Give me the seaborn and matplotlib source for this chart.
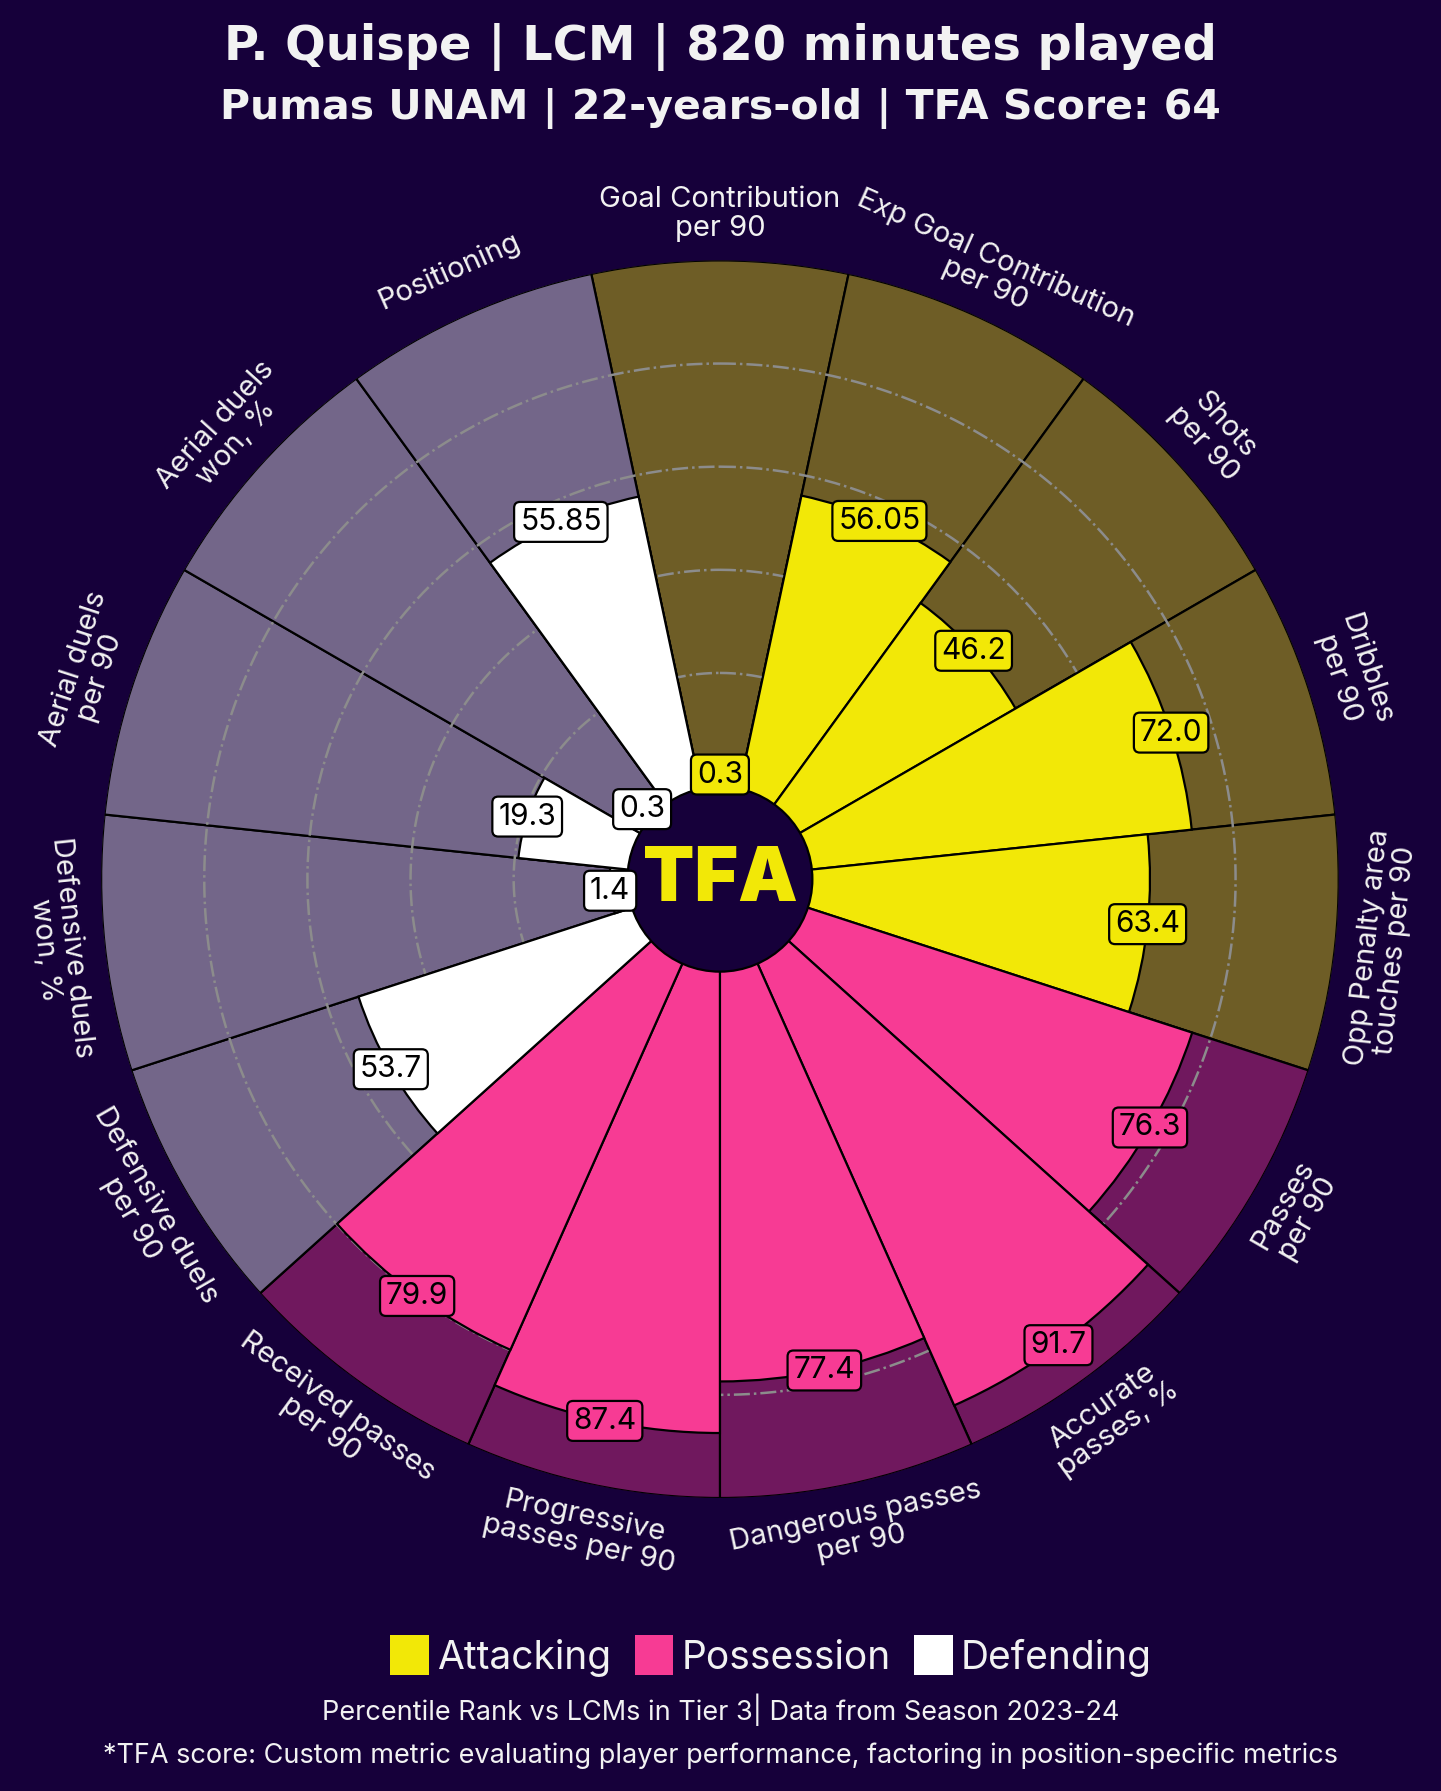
import numpy as np
import matplotlib
matplotlib.use("Agg")
import matplotlib.pyplot as plt
import matplotlib.colors as mcolors
from matplotlib.patches import Circle, Patch
import seaborn as sns

# ---- data ----
params = [
    "Goal Contribution\nper 90", "Exp Goal Contribution\nper 90", "Shots\nper 90",
    "Dribbles\nper 90", "Opp Penalty area\ntouches per 90",
    "Passes\nper 90", "Accurate\npasses, %", "Dangerous passes\nper 90",
    "Progressive\npasses per 90", "Received passes\nper 90",
    "Defensive duels\nper 90", "Defensive duels\nwon, %", "Aerial duels\nper 90",
    "Aerial duels\nwon, %", "Positioning",
]
values = [0.3, 56.05, 46.2, 72.0, 63.4,
          76.3, 91.7, 77.4, 87.4, 79.9,
          53.7, 1.4, 19.3, 0.3, 55.85]
value_labels = ["0.3", "56.05", "46.2", "72.0", "63.4",
                "76.3", "91.7", "77.4", "87.4", "79.9",
                "53.7", "1.4", "19.3", "0.3", "55.85"]
groups = ["Attacking"] * 5 + ["Possession"] * 5 + ["Defending"] * 5
group_names = ["Attacking", "Possession", "Defending"]

BG = "#16003a"
TXT = "#f2f2f2"
palette = dict(zip(group_names, sns.color_palette(["#f2e807", "#f73b94", "#ffffff"])))

def faded(c, a=0.4):
    c = np.array(mcolors.to_rgb(c))
    b = np.array(mcolors.to_rgb(BG))
    return tuple(a * c + (1 - a) * b)

sns.set_theme(style="dark", rc={"figure.facecolor": BG, "axes.facecolor": BG})
plt.rcParams["font.family"] = ["Inter", "DejaVu Sans"]

fig = plt.figure(figsize=(14.41, 17.91), dpi=100)
ax = fig.add_axes([0.0701, 0.1636, 0.859, 0.691], projection="polar")
ax.set_facecolor(BG)
ax.set_theta_zero_location("N")
ax.set_theta_direction(-1)

n = len(params)
width = 2 * np.pi / n
theta = np.arange(n) * width
bottom = -20
cols = [palette[g] for g in groups]

# background slices
ax.bar(theta, 100 - bottom, width=width, bottom=bottom,
       color=[faded(c) for c in cols], edgecolor="black", linewidth=1.6, zorder=1)

# grid rings
t = np.linspace(0, 2 * np.pi, 400)
for g in [20, 40, 60, 80]:
    ax.plot(t, np.full_like(t, g), ls="-.", color="#8c8c8c", lw=1.8, zorder=2)

# value slices
ax.bar(theta, np.array(values) - bottom, width=width, bottom=bottom,
       color=cols, edgecolor="black", linewidth=1.6, zorder=3)

ax.set_ylim(bottom, 100)
ax.set_xticks([])
ax.set_yticks([])
ax.grid(False)
ax.spines["polar"].set_visible(False)

# centre circle
ax.add_patch(Circle((0.5, 0.5), 0.0747, transform=ax.transAxes, fc=BG,
                    ec="black", lw=1.6, zorder=4))
ax.text(0.5, 0.498, "TFA", transform=ax.transAxes, ha="center", va="center",
        fontsize=54, fontweight="black", color=palette["Attacking"], zorder=5)

# value boxes
for th, v, lab, c in zip(theta, values, value_labels, cols):
    ax.text(th, v, lab, ha="center", va="center", fontsize=21.5, color="black",
            zorder=8, bbox=dict(boxstyle="round,pad=0.2", fc=c, ec="black", lw=1.6))

# parameter labels
for i, (th, p) in enumerate(zip(theta, params)):
    rot = (-np.degrees(th) + 180) % 360 - 180
    if rot < -90:
        rot += 180
    elif rot > 90:
        rot -= 180
    ax.text(th, 109, p, ha="center", va="center", rotation=rot,
            rotation_mode="anchor", fontsize=21, color=TXT, linespacing=1.05)

# titles
fig.text(0.5, 0.9667, "P. Quispe | LCM | 820 minutes played", ha="center",
         va="baseline", fontsize=34.5, fontweight="bold", color=TXT,
         family="DejaVu Sans")
fig.text(0.5, 0.9335, "Pumas UNAM | 22-years-old | TFA Score: 64", ha="center",
         va="baseline", fontsize=29.5, fontweight="bold", color=TXT,
         family="DejaVu Sans")

# legend
handles = [Patch(fc=palette[g], ec="none", label=g) for g in group_names]
fig.legend(handles=handles, loc="center", bbox_to_anchor=(0.535, 1 - 1656 / 1791),
           ncol=3, frameon=False, fontsize=28, handlelength=1.0, handleheight=1.2,
           handletextpad=0.2, columnspacing=0.6, labelcolor=TXT)

fig.text(0.5, 1 - 1710 / 1791,
         "Percentile Rank vs LCMs in Tier 3| Data from Season 2023-24",
         ha="center", va="center", fontsize=19.5, color=TXT)
fig.text(0.5, 1 - 1756 / 1791,
         "*TFA score: Custom metric evaluating player performance, factoring in position-specific metrics",
         ha="center", va="center", fontsize=19.5, color=TXT)

fig.savefig("out.png", dpi=100, facecolor=BG)
